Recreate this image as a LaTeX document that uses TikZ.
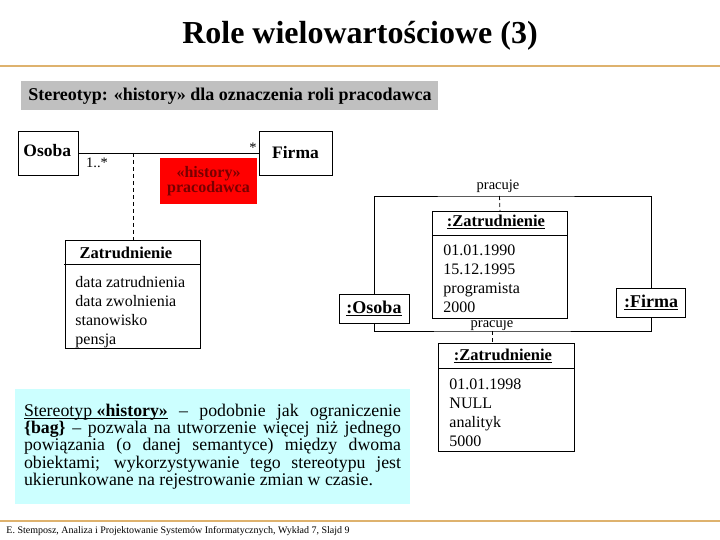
\documentclass[tikz,border=0pt]{standalone}
\usepackage{fontspec}
\setmainfont{Liberation Serif}
\definecolor{rulecol}{RGB}{222,178,110}
\definecolor{bannercol}{RGB}{192,192,192}
\definecolor{notecol}{RGB}{204,255,255}
\definecolor{labelred}{RGB}{120,0,0}
\newcommand{\uln}[1]{\leavevmode\setbox0=\hbox{#1}\rlap{\vrule width\wd0 height -0.1em depth 0.16em}\box0\relax}
\begin{document}
\begin{tikzpicture}[x=1pt,y=-1pt,line width=0.9pt]
\tikzstyle{every node}+=[inner sep=0pt]
\tikzstyle{box}=[draw, fill=white, line width=0.9pt]
\tikzstyle{link}=[dash pattern=on 4pt off 3pt, line width=0.8pt]
\tikzstyle{small}=[font=\fontsize{14.5}{16}\selectfont]
\tikzstyle{attr}=[anchor=north west, align=left, font=\fontsize{16}{19}\selectfont]
\tikzstyle{objname}=[font=\fontsize{16.5}{19}\selectfont\bfseries]
\useasboundingbox (0,0) rectangle (720,540);
% title and rules
\node (title) at (360,36) {\fontsize{32}{36}\selectfont\bfseries Role wielowartościowe (3)};
\draw [rulecol, line width=1.2pt] (0,66) -- (720,66);
\draw [rulecol, line width=1.2pt] (0,521) -- (720,521);
\node [anchor=west] (footer) at (6,531) {\fontsize{10}{12}\selectfont E. Stemposz, Analiza i Projektowanie Systemów Informatycznych, Wykład 7, Slajd 9};
% banner
\node [fill=bannercol, minimum width=417, minimum height=29, anchor=north west] (banner) at (21,81)
  {\fontsize{18}{20}\selectfont\bfseries Stereotyp: «history» dla oznaczenia roli pracodawca};
% class diagram
\node [box, minimum width=60, minimum height=44] (osoba) at (48,153) {};
\node [anchor=west] (osobaname) at (23,151) {\fontsize{17.5}{20}\selectfont\bfseries Osoba};
\node [box, minimum width=73, minimum height=44] (firma) at (295.5,153) {\fontsize{17.5}{20}\selectfont\bfseries Firma};
\draw (osoba.east) -- (firma.west);
\node [small] (multosoba) at (97,163) {1..*};
\node [small] (multfirma) at (253,148) {*};
\node [fill=red, minimum width=97, minimum height=46, align=center, text=labelred] (role) at (208.5,181)
  {\fontsize{16}{19}\selectfont\bfseries «history»\\ \fontsize{16}{19}\selectfont\bfseries pracodawca};
\node [box, minimum width=135, minimum height=108, anchor=north west] (zatr) at (65,240) {};
\draw (64,264) -- (zatr.east |- 0,264);
\node [objname] (zatrname) at (126,253) {Zatrudnienie};
\node [attr] (zatrattr) at (75,276) {data zatrudnienia\\data zwolnienia\\stanowisko\\pensja};
\coordinate (assoc) at (zatr.north |- osoba.east);
\draw [link] (assoc) -- (zatr.north);
% object diagram
\node [box, minimum width=70, minimum height=29] (oosoba) at (374,308.5) {\fontsize{18}{20}\selectfont\bfseries\uln{:Osoba}};
\node [box, minimum width=69, minimum height=29] (ofirma) at (651,302.5) {\fontsize{18}{20}\selectfont\bfseries\uln{:Firma}};
\coordinate (ptop) at (499.5,196);
\coordinate (pbot) at (492,331);
\draw (oosoba.north) |- (ptop) -| (ofirma.north);
\draw (oosoba.south) |- (pbot) -| (ofirma.south);
\node [small, anchor=base] (ptoplabel) at (498,190) {pracuje};
\node [small, anchor=base] (pbotlabel) at (492,327) {pracuje};
% first link object
\node [box, minimum width=135, minimum height=107, anchor=north west] (zobj1) at (432,211) {};
\draw (zobj1.west |- 0,235) -- (zobj1.east |- 0,235);
\node [objname] (zobj1name) at (496,222) {\uln{:Zatrudnienie}};
\node [attr] (zobj1attr) at (443,244) {01.01.1990\\15.12.1995\\programista\\2000};
\draw [link] (ptop) -- (zobj1.north);
% second link object
\node [box, minimum width=136, minimum height=108, anchor=north west] (zobj2) at (438,343) {};
\draw (zobj2.west |- 0,368) -- (zobj2.east |- 0,368);
\node [objname] (zobj2name) at (503,356) {\uln{:Zatrudnienie}};
\node [attr] (zobj2attr) at (449,378) {01.01.1998\\NULL\\analityk\\5000};
\draw [link] (pbot) -- (pbot |- zobj2.north);
% note
\node [fill=notecol, minimum width=395, minimum height=115, text width=377, align=justify] (note) at (212.5,446.5)
  {\fontsize{17.8}{21.75}\selectfont \hyphenpenalty=10000
   \uln{Stereotyp \textbf{«history»}} -- podobnie jak ograniczenie\linebreak
   \textbf{\{bag\}} -- pozwala na utworzenie więcej niż jednego\linebreak
   powiązania (o danej semantyce) między dwoma\linebreak
   obiektami; wykorzystywanie tego stereotypu jest\linebreak
   ukierunkowane na rejestrowanie zmian w czasie.};
\end{tikzpicture}
\end{document}
